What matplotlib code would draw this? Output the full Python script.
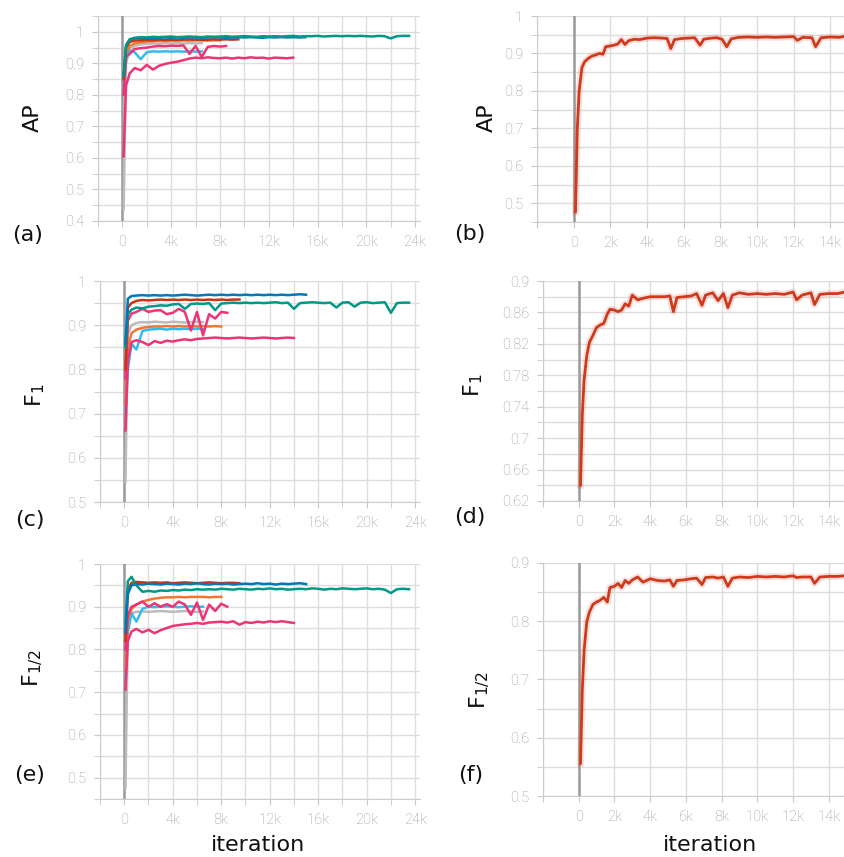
import matplotlib
matplotlib.use("Agg")
import matplotlib.pyplot as plt
from matplotlib.ticker import MultipleLocator, FuncFormatter

# evaluation steps (thousands of iterations)
steps = [0.1, 0.3, 0.6, 1.0, 1.5, 2.0, 2.5, 3.0, 3.5, 4.0,
         4.5, 5.0, 5.5, 6.0, 6.5, 7.0, 7.5, 8.0, 8.5, 9.0,
         9.5, 10.0, 10.5, 11.0, 11.5, 12.0, 12.5, 13.0, 13.5, 14.0,
         14.5, 15.0, 15.5, 16.0, 16.5, 17.0, 17.5, 18.0, 18.5, 19.0,
         19.5, 20.0, 20.5, 21.0, 21.5, 22.0, 22.5, 23.0, 23.5]
r_steps = [0.1, 0.2, 0.3, 0.45, 0.6, 0.8, 1.0, 1.2, 1.4, 1.6,
           1.75, 2.0, 2.2, 2.4, 2.6, 2.8, 3.0, 3.3, 3.6, 4.0,
           4.4, 4.8, 5.1, 5.3, 5.5, 5.9, 6.3, 6.6, 6.9, 7.1,
           7.5, 7.8, 8.1, 8.35, 8.6, 9.0, 9.5, 10.0, 10.5, 11.0,
           11.5, 12.0, 12.2, 12.5, 13.0, 13.2, 13.5, 14.0, 14.5, 14.9]

# ---- AP, all runs
ap_teal = [0.858, 0.955, 0.976, 0.981, 0.983, 0.982, 0.984, 0.983, 0.984, 0.985,
           0.983, 0.984, 0.985, 0.984, 0.983, 0.985, 0.984, 0.985, 0.986, 0.984,
           0.985, 0.986, 0.985, 0.984, 0.986, 0.985, 0.986, 0.985, 0.986, 0.987,
           0.985, 0.986, 0.986, 0.987, 0.985, 0.986, 0.987, 0.986, 0.987, 0.986,
           0.987, 0.986, 0.985, 0.987, 0.986, 0.979, 0.986, 0.987, 0.987]
ap_blue = [0.86, 0.958, 0.975, 0.979, 0.98, 0.981, 0.98, 0.981, 0.982, 0.981,
           0.982, 0.981, 0.983, 0.982, 0.981, 0.982, 0.983, 0.982, 0.981, 0.982,
           0.983, 0.982, 0.983, 0.982, 0.981, 0.983, 0.982, 0.983, 0.982, 0.983,
           0.982, 0.983]
ap_red = [0.85, 0.95, 0.968, 0.972, 0.973, 0.974, 0.973, 0.975, 0.974, 0.975,
          0.974, 0.975, 0.976, 0.975, 0.974, 0.975, 0.976, 0.975, 0.976, 0.975,
          0.976]
ap_orange = [0.855, 0.93, 0.955, 0.963, 0.967, 0.969, 0.97, 0.971, 0.971, 0.972,
             0.972, 0.973, 0.972, 0.973, 0.973, 0.972, 0.973, 0.973]
ap_gray = [0.436, 0.9, 0.945, 0.955, 0.96, 0.962, 0.963, 0.962, 0.964, 0.963,
           0.964, 0.963, 0.964, 0.963, 0.964]
ap_cyan = [0.82, 0.92, 0.94, 0.935, 0.913, 0.935, 0.938, 0.937, 0.938, 0.937,
           0.938, 0.937, 0.938, 0.937, 0.938]
ap_mag_hi = [0.80, 0.92, 0.93, 0.945, 0.948, 0.95, 0.953, 0.955, 0.954, 0.956,
             0.955, 0.957, 0.93, 0.955, 0.92, 0.952, 0.955, 0.953, 0.955]
ap_mag_lo = [0.605, 0.83, 0.868, 0.885, 0.878, 0.895, 0.88, 0.892, 0.898, 0.902,
             0.905, 0.91, 0.915, 0.918, 0.916, 0.919, 0.917, 0.916, 0.918, 0.915,
             0.918, 0.916, 0.919, 0.917, 0.918, 0.915, 0.918, 0.917, 0.916, 0.918]

# ---- F1, all runs
f1_teal = [0.85, 0.925, 0.935, 0.94, 0.938, 0.942, 0.943, 0.945, 0.944, 0.947,
           0.948, 0.937, 0.948, 0.949, 0.948, 0.95, 0.934, 0.949, 0.95, 0.951,
           0.95, 0.951, 0.95, 0.951, 0.95, 0.951, 0.952, 0.95, 0.951, 0.937,
           0.95, 0.951, 0.952, 0.951, 0.95, 0.951, 0.94, 0.951, 0.952, 0.942,
           0.951, 0.952, 0.95, 0.951, 0.952, 0.928, 0.95, 0.951, 0.951]
f1_blue = [0.858, 0.96, 0.966, 0.967, 0.968, 0.967, 0.968, 0.967, 0.968, 0.967,
           0.968, 0.969, 0.968, 0.967, 0.968, 0.969, 0.968, 0.969, 0.968, 0.969,
           0.968, 0.969, 0.968, 0.969, 0.968, 0.969, 0.968, 0.969, 0.968, 0.969,
           0.97, 0.969]
f1_red = [0.80, 0.94, 0.95, 0.955, 0.957, 0.956, 0.957, 0.958, 0.957, 0.958,
          0.957, 0.958, 0.957, 0.958, 0.957, 0.958, 0.957, 0.958, 0.957, 0.958,
          0.958]
f1_orange = [0.72, 0.85, 0.882, 0.89, 0.894, 0.896, 0.897, 0.897, 0.898, 0.897,
             0.898, 0.897, 0.898, 0.897, 0.898, 0.897, 0.898, 0.897]
f1_gray = [0.545, 0.88, 0.9, 0.905, 0.907, 0.906, 0.908, 0.907, 0.906, 0.908,
           0.907, 0.906, 0.907, 0.908, 0.907]
f1_cyan = [0.707, 0.80, 0.858, 0.845, 0.887, 0.89, 0.891, 0.892, 0.89, 0.892,
           0.891, 0.892, 0.891, 0.892, 0.891]
f1_mag_hi = [0.78, 0.91, 0.926, 0.93, 0.937, 0.93, 0.933, 0.934, 0.925, 0.928,
             0.937, 0.93, 0.888, 0.93, 0.877, 0.925, 0.915, 0.93, 0.928]
f1_mag_lo = [0.662, 0.82, 0.862, 0.866, 0.862, 0.855, 0.864, 0.86, 0.865, 0.863,
             0.866, 0.868, 0.866, 0.869, 0.87, 0.871, 0.872, 0.871, 0.87, 0.871,
             0.872, 0.871, 0.87, 0.871, 0.872, 0.871, 0.87, 0.871, 0.872, 0.871]

# ---- F1/2, all runs
f05_teal = [0.86, 0.96, 0.97, 0.95, 0.935, 0.937, 0.935, 0.938, 0.937, 0.939,
            0.938, 0.94, 0.939, 0.941, 0.94, 0.941, 0.94, 0.942, 0.941, 0.94,
            0.942, 0.941, 0.94, 0.942, 0.941, 0.943, 0.941, 0.942, 0.94, 0.941,
            0.942, 0.941, 0.943, 0.942, 0.94, 0.942, 0.941, 0.943, 0.942, 0.941,
            0.942, 0.943, 0.941, 0.942, 0.94, 0.932, 0.941, 0.942, 0.941]
f05_blue = [0.84, 0.93, 0.95, 0.953, 0.952, 0.954, 0.953, 0.952, 0.954, 0.953,
            0.952, 0.954, 0.953, 0.955, 0.953, 0.952, 0.954, 0.953, 0.954, 0.952,
            0.953, 0.954, 0.953, 0.955, 0.953, 0.954, 0.952, 0.954, 0.953, 0.954,
            0.955, 0.953]
f05_red = [0.82, 0.94, 0.956, 0.958, 0.957, 0.956, 0.957, 0.956, 0.957, 0.955,
           0.956, 0.957, 0.956, 0.955, 0.956, 0.957, 0.956, 0.955, 0.956, 0.956,
           0.955]
f05_orange = [0.75, 0.87, 0.895, 0.905, 0.912, 0.916, 0.919, 0.921, 0.922, 0.922,
              0.923, 0.922, 0.923, 0.923, 0.923, 0.922, 0.923, 0.923]
f05_gray = [0.476, 0.86, 0.885, 0.888, 0.889, 0.888, 0.889, 0.89, 0.889, 0.888,
            0.889, 0.89, 0.889, 0.888, 0.889]
f05_cyan = [0.73, 0.84, 0.885, 0.865, 0.895, 0.9, 0.899, 0.9, 0.901, 0.9,
            0.899, 0.9, 0.901, 0.9, 0.9]
f05_mag_hi = [0.80, 0.88, 0.9, 0.905, 0.912, 0.9, 0.908, 0.9, 0.906, 0.9,
              0.912, 0.905, 0.881, 0.91, 0.869, 0.905, 0.89, 0.907, 0.9]
f05_mag_lo = [0.706, 0.82, 0.842, 0.848, 0.84, 0.846, 0.838, 0.845, 0.85, 0.855,
              0.857, 0.859, 0.86, 0.862, 0.86, 0.863, 0.864, 0.865, 0.863, 0.866,
              0.858, 0.864, 0.862, 0.865, 0.863, 0.866, 0.864, 0.866, 0.864, 0.862]

# ---- best run (right column)
best_ap = [0.477, 0.70, 0.80, 0.862, 0.878, 0.887, 0.893, 0.896, 0.90, 0.898,
           0.918, 0.92, 0.922, 0.925, 0.937, 0.924, 0.934, 0.938, 0.937, 0.941,
           0.942, 0.941, 0.940, 0.913, 0.937, 0.940, 0.941, 0.942, 0.922, 0.938,
           0.941, 0.942, 0.938, 0.918, 0.939, 0.943, 0.944, 0.943, 0.944, 0.943,
           0.944, 0.945, 0.935, 0.943, 0.942, 0.918, 0.942, 0.944, 0.943, 0.947]
best_f1 = [0.64, 0.73, 0.774, 0.805, 0.822, 0.831, 0.841, 0.844, 0.846, 0.858,
           0.864, 0.863, 0.861, 0.863, 0.871, 0.868, 0.882, 0.876, 0.878, 0.88,
           0.88, 0.88, 0.881, 0.861, 0.879, 0.88, 0.881, 0.884, 0.869, 0.882,
           0.885, 0.875, 0.884, 0.866, 0.882, 0.885, 0.883, 0.884, 0.883, 0.884,
           0.883, 0.886, 0.876, 0.882, 0.885, 0.870, 0.883, 0.884, 0.884, 0.886]
best_f05 = [0.556, 0.682, 0.75, 0.799, 0.816, 0.829, 0.833, 0.836, 0.841, 0.833,
            0.858, 0.86, 0.865, 0.858, 0.87, 0.865, 0.871, 0.876, 0.867, 0.873,
            0.87, 0.869, 0.871, 0.86, 0.87, 0.871, 0.873, 0.874, 0.863, 0.875,
            0.876, 0.874, 0.876, 0.86, 0.874, 0.876, 0.875, 0.877, 0.876, 0.877,
            0.876, 0.878, 0.875, 0.876, 0.876, 0.865, 0.876, 0.877, 0.877, 0.878]

colors = {"gray": "#bbbbbb", "cyan": "#33bbee", "orange": "#ee7733",
          "mag_lo": "#ee3377", "mag_hi": "#ee3377", "red": "#cc3311",
          "blue": "#0077bb", "teal": "#009988"}
best_color = "#d03a1c"

plt.rcParams["font.family"] = ["Roboto", "DejaVu Sans"]
plt.rcParams["mathtext.fontset"] = "dejavusans"

fig = plt.figure(figsize=(8.44, 8.57), dpi=100)
W, H = 844.0, 857.0


def add_ax(x0, y0, x1, y1):
    return fig.add_axes([x0 / W, 1 - y1 / H, (x1 - x0) / W, (y1 - y0) / H])


def style(ax, xlim, ylim, xmajor, ymajor, yminor, yoffset=0.0):
    ax.set_xlim(*xlim)
    ax.set_ylim(*ylim)
    ax.xaxis.set_major_locator(MultipleLocator(xmajor))
    ax.xaxis.set_minor_locator(MultipleLocator(2000))
    ax.yaxis.set_major_locator(MultipleLocator(ymajor, offset=yoffset))
    ax.yaxis.set_minor_locator(MultipleLocator(yminor))
    ax.xaxis.set_major_formatter(FuncFormatter(
        lambda v, p: "" if v < 0 else ("0" if v == 0 else "%dk" % round(v / 1000))))
    ax.yaxis.set_major_formatter(FuncFormatter(lambda v, p: "%g" % round(v, 2)))
    ax.grid(True, which="both", color="#dddddd", lw=1, zorder=0)
    ax.set_axisbelow(True)
    for s in ["top", "right"]:
        ax.spines[s].set_visible(False)
    for s in ["left", "bottom"]:
        ax.spines[s].set_color("#cccccc")
    ax.tick_params(which="both", length=4, color="#c8c8c8", labelcolor="#999999",
                   labelsize=10.5, pad=6)
    for lbl in ax.get_xticklabels() + ax.get_yticklabels():
        lbl.set_fontweight("light")
    ax.axvline(0, color="#9a9a9a", lw=1.8, zorder=1.5)


def left_panel(ax, runs, top_run):
    for name in ["gray", "cyan", "orange", "mag_lo", "mag_hi", "red", "blue", "teal"]:
        y = runs[name]
        x = [s * 1000 for s in steps[:len(y)]]
        z = 3 if name == top_run else 2
        ax.plot(x, y, color=colors[name], lw=1.8, zorder=z)


def right_panel(ax, y):
    x = [s * 1000 for s in r_steps]
    ax.plot(x, y, color=best_color, lw=5, alpha=0.15, zorder=2)
    ax.plot(x, y, color=best_color, lw=2.0, zorder=3)


ap_runs = {"teal": ap_teal, "blue": ap_blue, "red": ap_red, "orange": ap_orange,
           "gray": ap_gray, "cyan": ap_cyan, "mag_hi": ap_mag_hi, "mag_lo": ap_mag_lo}
f1_runs = {"teal": f1_teal, "blue": f1_blue, "red": f1_red, "orange": f1_orange,
           "gray": f1_gray, "cyan": f1_cyan, "mag_hi": f1_mag_hi, "mag_lo": f1_mag_lo}
f05_runs = {"teal": f05_teal, "blue": f05_blue, "red": f05_red, "orange": f05_orange,
            "gray": f05_gray, "cyan": f05_cyan, "mag_hi": f05_mag_hi, "mag_lo": f05_mag_lo}

# (a)
ax = add_ax(98, 16, 420, 221)
left_panel(ax, ap_runs, "teal")
style(ax, (-2000, 24400), (0.4, 1.05), 4000, 0.1, 0.05)
# (b)
ax = add_ax(537, 16, 844, 222)
right_panel(ax, best_ap)
style(ax, (-2000, 14750), (0.45, 1.0), 2000, 0.1, 0.05)
# (c)
ax = add_ax(100, 281, 420, 502)
left_panel(ax, f1_runs, "blue")
style(ax, (-2000, 24400), (0.5, 1.0), 4000, 0.1, 0.05)
# (d)
ax = add_ax(543, 281, 844, 501)
right_panel(ax, best_f1)
style(ax, (-2000, 14850), (0.62, 0.9), 2000, 0.04, 0.02, yoffset=0.02)
# (e)
ax = add_ax(100, 564, 420, 799)
left_panel(ax, f05_runs, "blue")
style(ax, (-2000, 24400), (0.45, 1.0), 4000, 0.1, 0.05)
# (f)
ax = add_ax(543, 563, 844, 796)
right_panel(ax, best_f05)
style(ax, (-2000, 14850), (0.5, 0.9), 2000, 0.1, 0.05)

big = dict(fontsize=16, family="DejaVu Sans", color="#111111", ha="center", va="center")
fig.text(33 / W, 1 - 118 / H, "AP", rotation=90, **big)
fig.text(35 / W, 1 - 395 / H, "F$_1$", rotation=90, **big)
fig.text(33 / W, 1 - 668 / H, "F$_{1/2}$", rotation=90, **big)
fig.text(487 / W, 1 - 118 / H, "AP", rotation=90, **big)
fig.text(473 / W, 1 - 385 / H, "F$_1$", rotation=90, **big)
fig.text(480 / W, 1 - 690 / H, "F$_{1/2}$", rotation=90, **big)
fig.text(28 / W, 1 - 235 / H, "(a)", **big)
fig.text(470 / W, 1 - 234 / H, "(b)", **big)
fig.text(30 / W, 1 - 520 / H, "(c)", **big)
fig.text(470 / W, 1 - 517 / H, "(d)", **big)
fig.text(30 / W, 1 - 775 / H, "(e)", **big)
fig.text(471 / W, 1 - 775 / H, "(f)", **big)
fig.text(258 / W, 1 - 845 / H, "iteration", **big)
fig.text(710 / W, 1 - 845 / H, "iteration", **big)

plt.savefig("out.png", dpi=100)
